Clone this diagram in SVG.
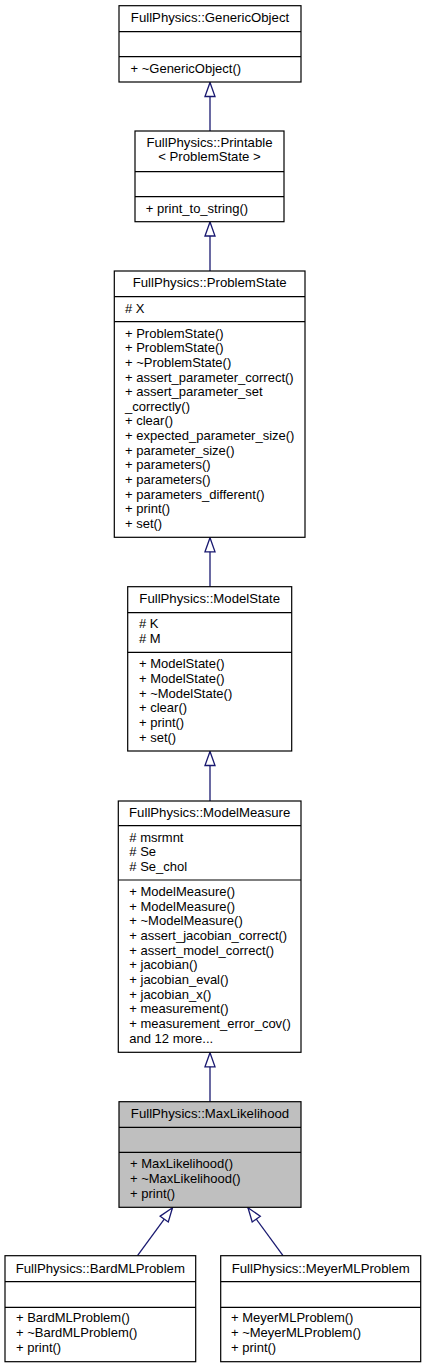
<svg xmlns="http://www.w3.org/2000/svg" width="426" height="1368" viewBox="0 0 426 1368">
<style>
.box{fill:#ffffff;stroke:#000000;stroke-width:1.2}
.hl{fill:#bfbfbf}
.div{stroke:#000000;stroke-width:1.2}
text{font-family:"Liberation Sans",Arial,Helvetica,sans-serif;font-size:13px;fill:#000000}
.t{text-anchor:middle;font-size:13.2px}
.edge{fill:none;stroke:#191970;stroke-width:1.3}
</style>
<defs>
<marker id="inh" viewBox="0 0 14 10" refX="14" refY="5" markerWidth="14" markerHeight="10" markerUnits="userSpaceOnUse" orient="auto" overflow="visible">
<path d="M0,0 L14,5 L0,10 Z" fill="#ffffff" stroke="#191970" stroke-width="1.3"/>
</marker>
</defs>
<rect width="426" height="1368" fill="#ffffff"/>
<g id="connectors">
<path class="edge" d="M210,131 L210,82.5" marker-end="url(#inh)"/>
<path class="edge" d="M210,271 L210,222" marker-end="url(#inh)"/>
<path class="edge" d="M210,586.7 L210,537.8" marker-end="url(#inh)"/>
<path class="edge" d="M210,801 L210,751.5" marker-end="url(#inh)"/>
<path class="edge" d="M210,1101.7 L210,1052.8" marker-end="url(#inh)"/>
<path class="edge" d="M137.5,1255.7 L172.5,1207.8" marker-end="url(#inh)"/>
<path class="edge" d="M283,1255.7 L248,1207.8" marker-end="url(#inh)"/>
</g>
<g id="GenericObject">
<rect class="box" x="119" y="5.7" width="182" height="76.3"/>
<line class="div" x1="119" y1="31.7" x2="301" y2="31.7"/>
<line class="div" x1="119" y1="56.7" x2="301" y2="56.7"/>
<text class="t" x="210" y="21.7">FullPhysics::GenericObject</text>
<text x="130.5" y="72.7">+ ~GenericObject()</text>
</g>
<g id="Printable">
<rect class="box" x="135" y="131" width="149" height="90.7"/>
<line class="div" x1="135" y1="171.7" x2="284" y2="171.7"/>
<line class="div" x1="135" y1="196.7" x2="284" y2="196.7"/>
<text class="t" x="209.5" y="146.7">FullPhysics::Printable</text>
<text class="t" x="209.5" y="161.3">&lt; ProblemState &gt;</text>
<text x="145.8" y="212.7">+ print_to_string()</text>
</g>
<g id="ProblemState">
<rect class="box" x="114.3" y="271" width="190.7" height="266.3"/>
<line class="div" x1="114.3" y1="296.7" x2="305" y2="296.7"/>
<line class="div" x1="114.3" y1="321.7" x2="305" y2="321.7"/>
<text class="t" x="209.7" y="286.7">FullPhysics::ProblemState</text>
<text x="125" y="312.5"># X</text>
<text x="125" y="337.5">+ ProblemState()</text>
<text x="125" y="352.2">+ ProblemState()</text>
<text x="125" y="366.8">+ ~ProblemState()</text>
<text x="125" y="381.5">+ assert_parameter_correct()</text>
<text x="125" y="396.1">+ assert_parameter_set</text>
<text x="125" y="410.8">_correctly()</text>
<text x="125" y="425.4">+ clear()</text>
<text x="125" y="440.1">+ expected_parameter_size()</text>
<text x="125" y="454.7">+ parameter_size()</text>
<text x="125" y="469.4">+ parameters()</text>
<text x="125" y="484">+ parameters()</text>
<text x="125" y="498.7">+ parameters_different()</text>
<text x="125" y="513.3">+ print()</text>
<text x="125" y="528">+ set()</text>
</g>
<g id="ModelState">
<rect class="box" x="127.7" y="586.7" width="164" height="164.3"/>
<line class="div" x1="127.7" y1="612.7" x2="291.7" y2="612.7"/>
<line class="div" x1="127.7" y1="652.3" x2="291.7" y2="652.3"/>
<text class="t" x="209.7" y="602.5">FullPhysics::ModelState</text>
<text x="139" y="628"># K</text>
<text x="139" y="642.6"># M</text>
<text x="139" y="668.3">+ ModelState()</text>
<text x="139" y="682.9">+ ModelState()</text>
<text x="139" y="697.6">+ ~ModelState()</text>
<text x="139" y="712.2">+ clear()</text>
<text x="139" y="726.9">+ print()</text>
<text x="139" y="741.5">+ set()</text>
</g>
<g id="ModelMeasure">
<rect class="box" x="118.3" y="801" width="182.7" height="251.3"/>
<line class="div" x1="118.3" y1="825.7" x2="301" y2="825.7"/>
<line class="div" x1="118.3" y1="880" x2="301" y2="880"/>
<text class="t" x="209.7" y="816.7">FullPhysics::ModelMeasure</text>
<text x="129.3" y="841.7"># msrmnt</text>
<text x="129.3" y="856.3"># Se</text>
<text x="129.3" y="871"># Se_chol</text>
<text x="129.3" y="896">+ ModelMeasure()</text>
<text x="129.3" y="910.6">+ ModelMeasure()</text>
<text x="129.3" y="925.3">+ ~ModelMeasure()</text>
<text x="129.3" y="939.9">+ assert_jacobian_correct()</text>
<text x="129.3" y="954.6">+ assert_model_correct()</text>
<text x="129.3" y="969.2">+ jacobian()</text>
<text x="129.3" y="983.9">+ jacobian_eval()</text>
<text x="129.3" y="998.5">+ jacobian_x()</text>
<text x="129.3" y="1013.2">+ measurement()</text>
<text x="129.3" y="1027.8">+ measurement_error_cov()</text>
<text x="129.3" y="1042.5">and 12 more...</text>
</g>
<g id="MaxLikelihood">
<rect class="box hl" x="119" y="1101.7" width="182" height="105.6"/>
<line class="div" x1="119" y1="1127.3" x2="301" y2="1127.3"/>
<line class="div" x1="119" y1="1152.3" x2="301" y2="1152.3"/>
<text class="t" x="210" y="1118.3">FullPhysics::MaxLikelihood</text>
<text x="130" y="1168.3">+ MaxLikelihood()</text>
<text x="130" y="1182.9">+ ~MaxLikelihood()</text>
<text x="130" y="1197.6">+ print()</text>
</g>
<g id="BardMLProblem">
<rect class="box" x="5" y="1255.7" width="190.7" height="106"/>
<line class="div" x1="5" y1="1281.7" x2="195.7" y2="1281.7"/>
<line class="div" x1="5" y1="1307.3" x2="195.7" y2="1307.3"/>
<text class="t" x="100.3" y="1272.7">FullPhysics::BardMLProblem</text>
<text x="16" y="1322.3">+ BardMLProblem()</text>
<text x="16" y="1336.9">+ ~BardMLProblem()</text>
<text x="16" y="1351.6">+ print()</text>
</g>
<g id="MeyerMLProblem">
<rect class="box" x="220.7" y="1255.7" width="200" height="106"/>
<line class="div" x1="220.7" y1="1281.7" x2="420.7" y2="1281.7"/>
<line class="div" x1="220.7" y1="1307.3" x2="420.7" y2="1307.3"/>
<text class="t" x="320.7" y="1272.7">FullPhysics::MeyerMLProblem</text>
<text x="231" y="1322.3">+ MeyerMLProblem()</text>
<text x="231" y="1336.9">+ ~MeyerMLProblem()</text>
<text x="231" y="1351.6">+ print()</text>
</g>
</svg>
